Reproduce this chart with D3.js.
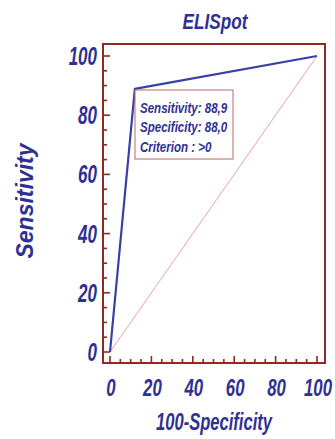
<!DOCTYPE html>
<html><head><meta charset="utf-8">
<script src="https://cdn.jsdelivr.net/npm/d3@7"></script>
<style>body{margin:0;background:#fff}</style>
</head><body>
<svg id="c" width="335" height="439"></svg>
<script>
const rocX = [0, 12, 100];
const rocY = [0, 88.9, 100];
const diagX = [0, 100];
const diagY = [0, 100];
const tickValues = [0, 20, 40, 60, 80, 100];
const boxLines = ["Sensitivity: 88,9", "Specificity: 88,0", "Criterion : >0"];
const title = "ELISpot";
const xLabel = "100-Specificity";
const yLabel = "Sensitivity";

const font = "'Liberation Sans',Arial,sans-serif";
const blue = "#2e3192", red = "#8e2a22";
const svg = d3.select("#c");
const x = d3.scaleLinear().domain([0,100]).range([110,317]);
const y = d3.scaleLinear().domain([0,100]).range([352,56]);
const frame = {l:103, t:44, r:325, b:363};

function txt(g, tx, ty, s, size, anchor, sx, rot){
  return g.append("text")
    .attr("transform",`translate(${tx},${ty})${rot?" rotate("+rot+")":""} scale(${sx},1)`)
    .attr("text-anchor",anchor)
    .attr("font-family",font).attr("font-style","italic").attr("font-weight","bold").attr("font-size",size)
    .attr("fill",blue).text(s);
}

svg.append("rect").attr("x",frame.l).attr("y",frame.t).attr("width",frame.r-frame.l).attr("height",frame.b-frame.t)
  .attr("fill","none").attr("stroke",red).attr("stroke-width",2);

// ticks
const minor = d3.range(0,101,5);
svg.append("g").selectAll("line").data(minor).join("line")
  .attr("x1",frame.l).attr("x2",d=>frame.l+(d%20===0?7:4)).attr("y1",d=>y(d)).attr("y2",d=>y(d))
  .attr("stroke",red).attr("stroke-width",1.6);
svg.append("g").selectAll("line").data(minor).join("line")
  .attr("y1",frame.b).attr("y2",d=>frame.b-(d%20===0?7:4)).attr("x1",d=>x(d)).attr("x2",d=>x(d))
  .attr("stroke",red).attr("stroke-width",1.6);

const gy = svg.append("g");
tickValues.forEach(d=>txt(gy, 97, y(d)+9, d, 25, "end", 0.68));
const gx = svg.append("g");
tickValues.forEach(d=>txt(gx, x(d)+1, 396, d, 24, "middle", 0.7));

// diagonal
const line = d3.line().x(d=>x(d[0])).y(d=>y(d[1]));
svg.append("path").datum(diagX.map((v,i)=>[v,diagY[i]])).attr("d",line)
  .attr("fill","none").attr("stroke","#e8a4a0").attr("stroke-width",1);
// ROC
svg.append("path").datum(rocX.map((v,i)=>[v,rocY[i]])).attr("d",line)
  .attr("fill","none").attr("stroke","#3a3fa6").attr("stroke-width",2.2).attr("stroke-linejoin","round");

// box
svg.append("rect").attr("x",135).attr("y",90).attr("width",98).attr("height",69)
  .attr("fill","#fff").attr("stroke","#b56a64").attr("stroke-width",1);
const gb = svg.append("g");
boxLines.forEach((d,i)=>txt(gb, 140, 112.5+i*19.5, d, 15, "start", 0.77));

// titles
txt(svg, 215, 29, title, 22, "middle", 0.78);
txt(svg, 214, 430, xLabel, 23, "middle", 0.72);
txt(svg, 33, 201, yLabel, 23, "middle", 1, -90);
</script>
</body></html>
